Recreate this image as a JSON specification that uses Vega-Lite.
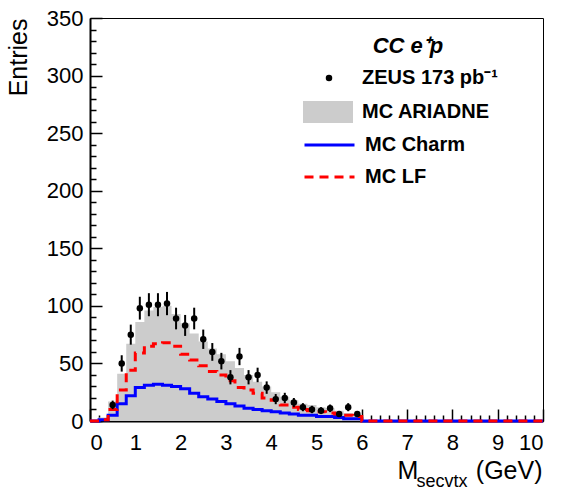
{
  "$schema": "https://vega.github.io/schema/vega-lite/v6.json",
  "width": 453,
  "height": 403,
  "autosize": {"type": "none"},
  "padding": {"left": 90, "top": 18, "right": 20, "bottom": 70},
  "background": "white",
  "datasets": {
    "hist": [
      {"x": 0.0, "ariadne": 0, "charm": 0, "lf": 0},
      {"x": 0.2, "ariadne": 3, "charm": 1, "lf": 1},
      {"x": 0.4, "ariadne": 17, "charm": 5, "lf": 10},
      {"x": 0.6, "ariadne": 41, "charm": 15, "lf": 27},
      {"x": 0.8, "ariadne": 67, "charm": 22, "lf": 44},
      {"x": 1.0, "ariadne": 86, "charm": 29, "lf": 59},
      {"x": 1.2, "ariadne": 96, "charm": 31, "lf": 65},
      {"x": 1.4, "ariadne": 99, "charm": 32, "lf": 67},
      {"x": 1.6, "ariadne": 100, "charm": 31, "lf": 68},
      {"x": 1.8, "ariadne": 93, "charm": 30, "lf": 65},
      {"x": 2.0, "ariadne": 85, "charm": 28, "lf": 58},
      {"x": 2.2, "ariadne": 76, "charm": 24, "lf": 53},
      {"x": 2.4, "ariadne": 69, "charm": 21, "lf": 48},
      {"x": 2.6, "ariadne": 63, "charm": 19, "lf": 43},
      {"x": 2.8, "ariadne": 58, "charm": 17, "lf": 40},
      {"x": 3.0, "ariadne": 52, "charm": 15, "lf": 35},
      {"x": 3.2, "ariadne": 46, "charm": 13, "lf": 29},
      {"x": 3.4, "ariadne": 40, "charm": 11, "lf": 27},
      {"x": 3.6, "ariadne": 34, "charm": 10, "lf": 24},
      {"x": 3.8, "ariadne": 30, "charm": 9, "lf": 20},
      {"x": 4.0, "ariadne": 25, "charm": 8, "lf": 18},
      {"x": 4.2, "ariadne": 21, "charm": 7, "lf": 14},
      {"x": 4.4, "ariadne": 18, "charm": 6, "lf": 12},
      {"x": 4.6, "ariadne": 15, "charm": 5, "lf": 10},
      {"x": 4.8, "ariadne": 14, "charm": 5, "lf": 9},
      {"x": 5.0, "ariadne": 12, "charm": 4, "lf": 8},
      {"x": 5.2, "ariadne": 11, "charm": 4, "lf": 7},
      {"x": 5.4, "ariadne": 9, "charm": 3, "lf": 6},
      {"x": 5.6, "ariadne": 7, "charm": 2, "lf": 5},
      {"x": 5.8, "ariadne": 6, "charm": 2, "lf": 4},
      {"x": 6.0, "ariadne": 0, "charm": 0, "lf": 0},
      {"x": 10.0, "ariadne": 0, "charm": 0, "lf": 0}
    ],
    "zeus": [
      {"x": 0.5, "y": 14, "lo": 10.3, "hi": 17.7},
      {"x": 0.7, "y": 50, "lo": 42.9, "hi": 57.1},
      {"x": 0.9, "y": 75, "lo": 66.3, "hi": 83.7},
      {"x": 1.1, "y": 98, "lo": 88.1, "hi": 107.9},
      {"x": 1.3, "y": 101, "lo": 91, "hi": 111},
      {"x": 1.5, "y": 101, "lo": 91, "hi": 111},
      {"x": 1.7, "y": 102, "lo": 91.9, "hi": 112.1},
      {"x": 1.9, "y": 89, "lo": 79.6, "hi": 98.4},
      {"x": 2.1, "y": 83, "lo": 73.9, "hi": 92.1},
      {"x": 2.3, "y": 89, "lo": 79.6, "hi": 98.4},
      {"x": 2.5, "y": 71, "lo": 62.6, "hi": 79.4},
      {"x": 2.7, "y": 60, "lo": 52.3, "hi": 67.7},
      {"x": 2.9, "y": 52, "lo": 44.8, "hi": 59.2},
      {"x": 3.1, "y": 38, "lo": 31.8, "hi": 44.2},
      {"x": 3.3, "y": 56, "lo": 48.5, "hi": 63.5},
      {"x": 3.5, "y": 38, "lo": 31.8, "hi": 44.2},
      {"x": 3.7, "y": 40, "lo": 33.7, "hi": 46.3},
      {"x": 3.9, "y": 29, "lo": 23.6, "hi": 34.4},
      {"x": 4.1, "y": 19, "lo": 14.6, "hi": 23.4},
      {"x": 4.3, "y": 20, "lo": 15.5, "hi": 24.5},
      {"x": 4.5, "y": 16, "lo": 12, "hi": 20},
      {"x": 4.7, "y": 12, "lo": 8.5, "hi": 15.5},
      {"x": 4.9, "y": 10, "lo": 6.8, "hi": 13.2},
      {"x": 5.1, "y": 9, "lo": 6, "hi": 12},
      {"x": 5.3, "y": 11, "lo": 7.7, "hi": 14.3},
      {"x": 5.5, "y": 6, "lo": 3.6, "hi": 8.4},
      {"x": 5.7, "y": 12, "lo": 8.5, "hi": 15.5},
      {"x": 5.9, "y": 6, "lo": 3.6, "hi": 8.4}
    ]
  },
  "layer": [
    {
      "data": {"name": "hist"},
      "mark": {"type": "area", "interpolate": "step-after"},
      "encoding": {
        "x": {"field": "x", "type": "quantitative", "scale": {"domain": [0, 10], "nice": false},
              "axis": {
                "orient": "bottom",
                "values": [0,1,2,3,4,5,6,7,8,9,10],
                "format": "d",
                "labelOverlap": false,
                "tickSize": -12,
                "labelPadding": 23,
                "title": "M",
                "titleX": 307, "titleY": 57, "titleAlign": "left", "titleBaseline": "alphabetic",
                "titleFontSize": 25
              }},
        "y": {"field": "ariadne", "type": "quantitative", "scale": {"domain": [0, 350], "nice": false},
              "axis": {
                "orient": "left",
                "values": [0,50,100,150,200,250,300,350],
                "labelOverlap": false,
                "tickSize": -12,
                "labelPadding": 19,
                "title": "Entries",
                "titleX": -64, "titleY": 0, "titleAngle": 270, "titleAlign": "right", "titleBaseline": "alphabetic",
                "titleFontSize": 25
              }},
        "fill": {"datum": "MC ARIADNE", "type": "nominal",
                 "scale": {"range": ["#cccccc"]},
                 "legend": {"orient": "none", "legendX": 213, "legendY": 69, "title": null,
                            "symbolType": "M-1,-0.44L1,-0.44L1,0.44L-1,0.44Z", "symbolSize": 2500,
                            "symbolStrokeWidth": 0, "labelOffset": 9}}
      }
    },
    {
      "data": {"name": "hist"},
      "transform": [{"fold": ["charm", "lf"], "as": ["key", "value"]}],
      "mark": {"type": "line", "interpolate": "step-after", "strokeWidth": 3},
      "encoding": {
        "x": {"field": "x", "type": "quantitative", "scale": {"domain": [0, 10], "nice": false},
              "axis": {"orient": "bottom",
                       "values": [0.2,0.4,0.6,0.8,1.2,1.4,1.6,1.8,2.2,2.4,2.6,2.8,3.2,3.4,3.6,3.8,4.2,4.4,4.6,4.8,5.2,5.4,5.6,5.8,6.2,6.4,6.6,6.8,7.2,7.4,7.6,7.8,8.2,8.4,8.6,8.8,9.2,9.4,9.6,9.8],
                       "labels": false, "ticks": true, "tickSize": -6, "domain": false, "grid": false,
                       "title": "secvtx", "titleX": 326, "titleY": 65, "titleAlign": "left",
                       "titleBaseline": "alphabetic", "titleFontSize": 18}},
        "y": {"field": "value", "type": "quantitative", "scale": {"domain": [0, 350], "nice": false}, "axis": null},
        "color": {"field": "key", "type": "nominal",
                  "scale": {"domain": ["charm", "lf"], "range": ["#0000ff", "#ff0000"]},
                  "legend": {"orient": "none", "legendX": 213, "legendY": 116, "title": null,
                             "symbolType": "stroke", "symbolSize": 2500, "symbolStrokeWidth": 3,
                             "clipHeight": 22, "rowPadding": 10, "labelOffset": 9,
                             "labelExpr": "datum.label === 'charm' ? 'MC Charm' : 'MC LF'"}},
        "strokeDash": {"field": "key", "type": "nominal",
                       "scale": {"domain": ["charm", "lf"], "range": [[1, 0], [9, 6]]},
                       "legend": {"orient": "none", "legendX": 213, "legendY": 116, "title": null,
                                  "symbolType": "stroke", "symbolSize": 2500, "symbolStrokeWidth": 3,
                                  "clipHeight": 22, "rowPadding": 10, "labelOffset": 9,
                                  "labelExpr": "datum.label === 'charm' ? 'MC Charm' : 'MC LF'"}}
      }
    },
    {
      "data": {"name": "zeus"},
      "mark": {"type": "rule", "color": "black", "strokeWidth": 2},
      "encoding": {
        "x": {"field": "x", "type": "quantitative", "scale": {"domain": [0, 10], "nice": false},
              "axis": {"orient": "bottom", "labels": false, "ticks": false, "domain": false, "grid": false,
                       "title": "(GeV)", "titleX": 452, "titleY": 57, "titleAlign": "right",
                       "titleBaseline": "alphabetic", "titleFontSize": 25}},
        "y": {"field": "lo", "type": "quantitative", "scale": {"domain": [0, 350], "nice": false},
              "axis": {"orient": "left",
                       "values": [10,20,30,40,60,70,80,90,110,120,130,140,160,170,180,190,210,220,230,240,260,270,280,290,310,320,330,340],
                       "labels": false, "ticks": true, "tickSize": -6, "domain": false, "grid": false, "title": null}},
        "y2": {"field": "hi"}
      }
    },
    {
      "data": {"name": "zeus"},
      "mark": {"type": "point", "filled": true, "color": "black", "opacity": 1, "size": 42},
      "encoding": {
        "x": {"field": "x", "type": "quantitative", "scale": {"domain": [0, 10], "nice": false}, "axis": null},
        "y": {"field": "y", "type": "quantitative", "scale": {"domain": [0, 350], "nice": false}, "axis": null},
        "shape": {"datum": "ZEUS 173 pb⁻¹", "type": "nominal",
                  "scale": {"range": ["circle"]},
                  "legend": {"orient": "none", "legendX": 229, "legendY": 18, "title": "\u2003\u2002CC e⁺p",
                             "titleFontStyle": "italic", "titleFontWeight": "bold", "titleFontSize": 22,
                             "titleAnchor": "middle", "titleAlign": "center", "titlePadding": 10,
                             "symbolSize": 42, "symbolFillColor": "black", "symbolStrokeColor": "black",
                             "labelOffset": 23}}
      }
    }
  ],
  "resolve": {"axis": {"x": "independent", "y": "independent"}, "scale": {"x": "shared", "y": "shared"}},
  "config": {
    "font": "Liberation Sans",
    "view": {"stroke": "#000", "strokeWidth": 1},
    "axis": {
      "grid": false,
      "domainColor": "black", "domainWidth": 2,
      "tickColor": "black", "tickWidth": 1.5,
      "labelColor": "black", "labelFontSize": 22, "labelFont": "Liberation Sans",
      "titleColor": "black", "titleFont": "Liberation Sans", "titleFontWeight": "normal"
    },
    "legend": {
      "padding": 0,
      "labelFont": "Liberation Sans", "labelFontSize": 20, "labelFontWeight": "bold", "labelColor": "black",
      "titleFont": "Liberation Sans", "titleColor": "black"
    }
  }
}
